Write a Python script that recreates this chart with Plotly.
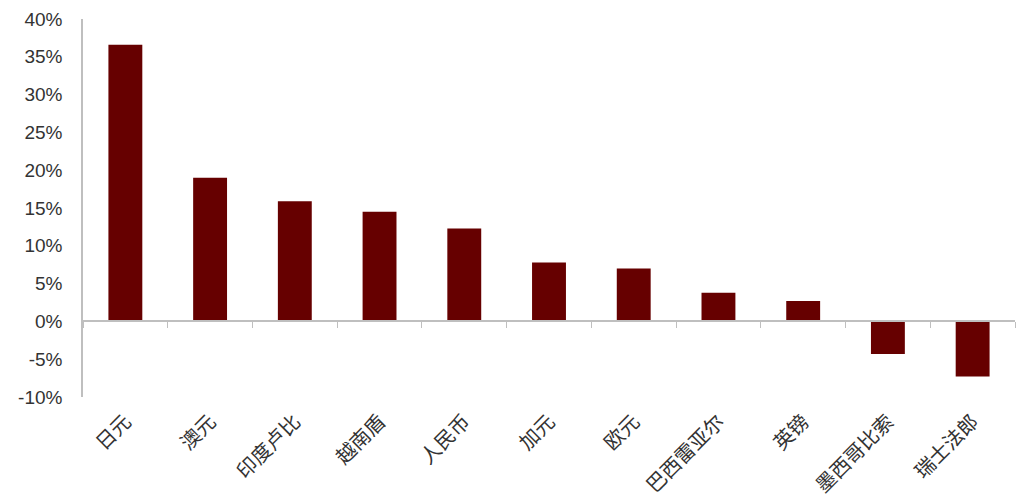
import plotly.graph_objects as go

categories = ["日元", "澳元", "印度卢比", "越南盾", "人民币", "加元", "欧元",
              "巴西雷亚尔", "英镑", "墨西哥比索", "瑞士法郎"]
values = [36.6, 19.0, 15.9, 14.5, 12.3, 7.8, 7.0, 3.8, 2.7, -4.3, -7.3]
y_ticks = [-10, -5, 0, 5, 10, 15, 20, 25, 30, 35, 40]
y_tick_labels = [f"{v}%" for v in y_ticks]

BAR = "#660000"
AXIS = "#bfbfbf"
TXT = "#333333"

fig = go.Figure()
fig.add_trace(go.Bar(x=categories, y=values, marker=dict(color=BAR, line=dict(width=0)),
                     width=0.4, xaxis="x", yaxis="y", showlegend=False))
# invisible trace to carry the zero-line axis with boundary ticks
fig.add_trace(go.Scatter(x=categories, y=values, mode="markers", marker=dict(opacity=0),
                         xaxis="x2", yaxis="y", showlegend=False, hoverinfo="skip"))

fig.update_layout(
    width=1024, height=503,
    margin=dict(l=75, r=17, t=11, b=114),
    paper_bgcolor="white", plot_bgcolor="white",
    font=dict(family="Liberation Sans, Arial, sans-serif", color=TXT, size=19),
    xaxis=dict(
        type="category", range=[-0.5, 10.5], showline=False, ticks="",
        showgrid=False, zeroline=False, tickangle=-45, automargin=False,
        tickfont=dict(family="Noto Sans CJK SC", size=20, color=TXT),
        ticklabelstandoff=8, ticklabeloverflow="allow",
    ),
    xaxis2=dict(
        type="category", range=[-0.5, 10.5], overlaying="x", anchor="free",
        position=0.2, showline=True, linecolor=AXIS, linewidth=1.5,
        ticks="outside", ticklen=6, tickcolor=AXIS, tickwidth=1, automargin=False,
        tickson="boundaries", showticklabels=False, showgrid=False, zeroline=False,
        side="bottom",
    ),
    yaxis=dict(
        range=[-10, 40], tickvals=y_ticks, ticktext=y_tick_labels, automargin=False,
        showgrid=False, zeroline=False, showline=True, linecolor=AXIS, linewidth=1.5,
        ticks="", ticklabelstandoff=15, ticklabeloverflow="allow",
        tickfont=dict(family="Liberation Sans, Arial, sans-serif", size=19, color=TXT),
    ),
)

fig.write_html("out.html")
